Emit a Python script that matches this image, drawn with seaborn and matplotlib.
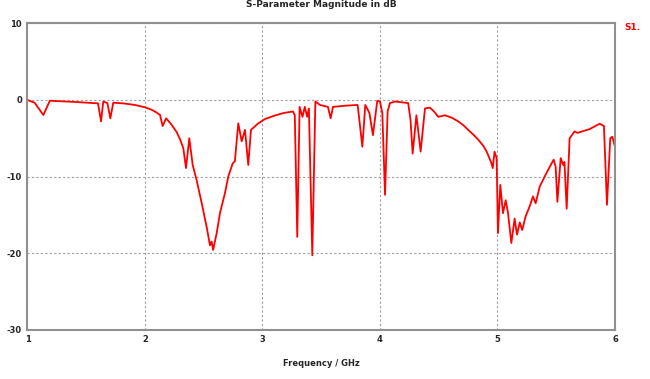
import pandas as pd
import numpy as np
import seaborn as sns
import matplotlib.pyplot as plt

sns.set_theme(style="white")
plt.rcParams['font.family'] = ['DejaVu Sans']

# Datos (GHz, dB)
freq_ghz = [1.00, 1.06, 1.135, 1.19, 1.40, 1.60, 1.626, 1.645, 1.68, 1.705, 1.73, 1.82,
            1.915, 2.00, 2.06, 2.10, 2.128, 2.15, 2.18, 2.22, 2.27, 2.30, 2.326, 2.349,
            2.377, 2.406, 2.44, 2.483, 2.525, 2.553, 2.567, 2.58, 2.61, 2.638, 2.68, 2.709,
            2.746, 2.765, 2.794, 2.823, 2.851, 2.879, 2.902, 2.96, 3.02, 3.10, 3.18, 3.26,
            3.275, 3.296, 3.316, 3.34, 3.36, 3.38, 3.395, 3.424, 3.45, 3.49, 3.557, 3.58,
            3.60, 3.70, 3.81, 3.85, 3.875, 3.91, 3.94, 3.977, 4.00, 4.02, 4.043, 4.065,
            4.085, 4.13, 4.24, 4.26, 4.278, 4.31, 4.346, 4.383, 4.425, 4.46, 4.496, 4.553,
            4.61, 4.666, 4.71, 4.75, 4.80, 4.837, 4.88, 4.908, 4.945, 4.96, 4.975, 4.993,
            5.004, 5.024, 5.047, 5.07, 5.09, 5.118, 5.146, 5.166, 5.19, 5.21, 5.24, 5.274,
            5.302, 5.325, 5.36, 5.415, 5.478, 5.495, 5.51, 5.538, 5.56, 5.57, 5.589, 5.614,
            5.657, 5.68, 5.785, 5.87, 5.906, 5.932, 5.96, 5.977, 6.00]
s11_db = [0.0, -0.35, -1.96, -0.1, -0.25, -0.44, -2.8, -0.2, -0.4, -2.4, -0.35, -0.45,
          -0.65, -0.95, -1.3, -1.65, -1.96, -3.4, -2.4, -3.1, -4.2, -5.2, -6.3, -8.9,
          -5.0, -8.5, -10.5, -13.5, -16.6, -19.0, -18.5, -19.6, -17.4, -14.8, -12.2, -10.0,
          -8.3, -8.0, -3.05, -5.4, -3.9, -8.5, -3.9, -3.1, -2.5, -2.05, -1.7, -1.5,
          -2.0, -17.9, -0.9, -2.2, -0.9, -2.2, -1.1, -20.3, -0.2, -0.65, -0.9, -2.4,
          -0.9, -0.75, -0.65, -6.1, -0.65, -1.7, -4.6, -0.1, -0.2, -1.7, -12.4, -1.5,
          -0.4, -0.2, -0.4, -2.6, -7.0, -2.0, -6.75, -1.1, -1.0, -1.5, -2.2, -2.0,
          -2.3, -2.8, -3.3, -3.9, -4.6, -5.2, -6.0, -6.75, -8.1, -8.9, -6.75, -7.6,
          -17.4, -11.1, -14.8, -13.1, -14.8, -18.7, -15.5, -17.6, -16.0, -17.0, -15.2, -13.9,
          -12.6, -13.5, -11.3, -9.6, -7.8, -8.7, -13.3, -7.6, -8.5, -8.1, -14.2, -5.0,
          -4.1, -4.3, -3.8, -3.1, -3.4, -13.7, -5.0, -4.8, -6.1]
x_ticks = [1, 2, 3, 4, 5, 6]
y_ticks = [10, 0, -10, -20, -30]

df = pd.DataFrame({"f": freq_ghz, "s11": s11_db})

fig = plt.figure(figsize=(6.5, 3.79), dpi=100)
ax = fig.add_axes([0.0423, 0.1306, 0.9038, 0.8074])
sns.lineplot(data=df, x="f", y="s11", color="#ff0000", linewidth=1.3, ax=ax)

ax.set_xlim(1, 6)
ax.set_ylim(-30, 10)
ax.set_xticks(x_ticks)
ax.set_yticks(y_ticks)
ax.set_xticklabels([str(t) for t in x_ticks], fontsize=6, fontweight='bold')
ax.set_yticklabels([str(t) for t in y_ticks], fontsize=6, fontweight='bold')
ax.tick_params(axis='both', length=3, width=0.8, color='#808080', pad=1, direction='out')
ax.grid(True, linestyle=(0, (2, 2)), color='#a0a0a0', linewidth=0.8)
for s in ax.spines.values():
    s.set_color('#909090')
    s.set_linewidth(1.5)

ax.set_xlabel("Frequency / GHz", fontsize=6, fontweight='bold', labelpad=11)
ax.set_ylabel("")
ax.set_title("S-Parameter Magnitude in dB", fontsize=6.5, fontweight='bold', pad=12)
fig.text(0.985, 0.92, "S1.", color="#ff0000", fontsize=6.5, fontweight='bold', ha='right')

fig.savefig("out.png", dpi=100)
